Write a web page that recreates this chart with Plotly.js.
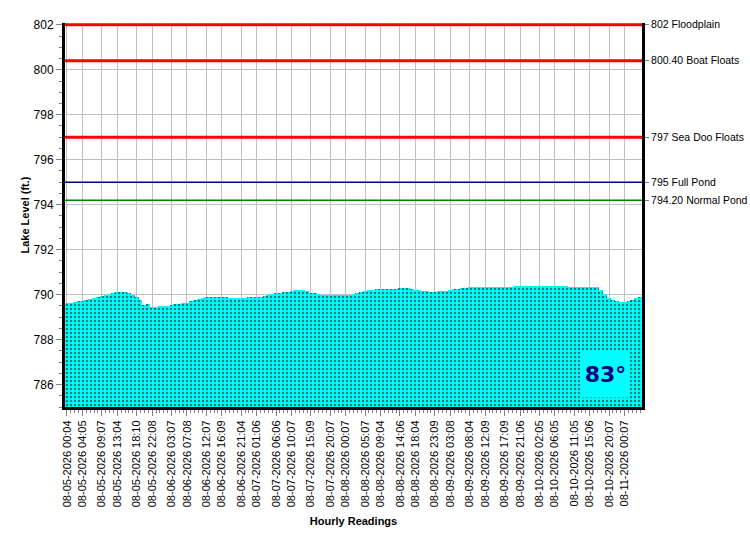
<!DOCTYPE html>
<html>
<head>
<meta charset="utf-8">
<script src="https://cdn.plot.ly/plotly-3.0.1.min.js"></script>
<style>html,body{margin:0;padding:0;background:#fff;}#chart{width:750px;height:550px;}</style>
</head>
<body>
<div id="chart"></div>
<script>
// Hourly lake level readings (ft.), one per hour starting 08-05-2026 00:04
const levels = [
  789.61,789.64,789.66,789.70,789.72,789.76,789.80,789.84,789.88,789.94,
  789.99,790.03,790.06,790.10,790.12,790.10,790.07,789.99,789.90,789.76,
  789.55,789.58,789.47,789.46,789.49,789.49,789.51,789.52,789.57,789.60,
  789.62,789.64,789.70,789.76,789.80,789.85,789.88,789.90,789.91,789.91,
  789.90,789.88,789.87,789.86,789.85,789.85,789.87,789.88,789.88,789.88,
  789.91,789.94,789.97,790.01,790.05,790.08,790.10,790.13,790.17,790.21,
  790.22,790.22,790.15,790.07,790.07,790.03,789.97,789.98,789.99,789.99,
  789.99,789.99,790.00,790.00,790.04,790.09,790.13,790.16,790.20,790.22,
  790.24,790.25,790.25,790.26,790.27,790.27,790.28,790.31,790.28,790.24,
  790.22,790.20,790.18,790.15,790.13,790.13,790.15,790.16,790.18,790.22,
  790.24,790.26,790.28,790.30,790.32,790.34,790.34,790.34,790.33,790.33,
  790.33,790.33,790.33,790.34,790.34,790.35,790.37,790.39,790.39,790.38,
  790.39,790.39,790.38,790.37,790.36,790.37,790.38,790.39,790.39,790.37,
  790.35,790.34,790.34,790.34,790.34,790.33,790.33,790.33,790.21,790.02,
  789.85,789.78,789.72,789.68,789.67,789.72,789.76,789.84,789.88
];

const tickLabels = [
  "08-05-2026 00:04","08-05-2026 04:05","08-05-2026 09:07","08-05-2026 13:04",
  "08-05-2026 18:10","08-05-2026 22:08","08-06-2026 03:07","08-06-2026 07:08",
  "08-06-2026 12:07","08-06-2026 16:09","08-06-2026 21:04","08-07-2026 01:06",
  "08-07-2026 06:06","08-07-2026 10:07","08-07-2026 15:09","08-07-2026 20:07",
  "08-08-2026 00:07","08-08-2026 05:07","08-08-2026 09:04","08-08-2026 14:06",
  "08-08-2026 18:04","08-08-2026 23:09","08-09-2026 03:08","08-09-2026 08:04",
  "08-09-2026 12:09","08-09-2026 17:09","08-09-2026 21:06","08-10-2026 02:05",
  "08-10-2026 06:05","08-10-2026 11:05","08-10-2026 15:06","08-10-2026 20:07",
  "08-11-2026 00:07"
];

const refLevels = [802, 800.4, 797, 795, 794.2];
const refLabels = ["802 Floodplain", "800.40 Boat Floats", "797 Sea Doo Floats", "795 Full Pond", "794.20 Normal Pond"];
const refColors = ["#ff0000", "#ff0000", "#ff0000", "#000080", "#008000"];
const refWidths = [3, 3, 3, 1.5, 1.5];

const temperature = "83°";

// reading index (hours since first reading) from a label
function hourIndex(lbl) {
  const day = parseInt(lbl.slice(3, 5), 10);
  const hr = parseInt(lbl.slice(11, 13), 10);
  return (day - 5) * 24 + hr;
}
const xs = levels.map((v, i) => i);
const tickVals = tickLabels.map(hourIndex);

const font = "Liberation Sans, Arial, sans-serif";
const yRange = [785, 802.08];

const bars = {
  type: "bar",
  x: xs,
  y: levels,
  width: 1,
  marker: {
    color: "#00ffff",
    line: {width: 0},
    pattern: {shape: ".", fgcolor: "#000000", bgcolor: "#00ffff", size: 4, solidity: 0.3, fillmode: "overlay"}
  },
  hoverinfo: "x+y",
  showlegend: false
};

const dummyRight = {
  type: "scatter", x: [0], y: [refLevels[0]], yaxis: "y2",
  mode: "markers", marker: {opacity: 0}, showlegend: false, hoverinfo: "skip"
};

const shapes = refLevels.map((lv, i) => ({
  type: "line", xref: "paper", x0: 0, x1: 1, yref: "y", y0: lv, y1: lv,
  line: {color: refColors[i], width: refWidths[i]}
}));

const layout = {
  width: 750, height: 550,
  margin: {l: 65, r: 108, t: 23, b: 143},
  paper_bgcolor: "#ffffff", plot_bgcolor: "#ffffff",
  bargap: 0,
  font: {family: font, size: 11, color: "#000"},
  xaxis: {
    range: [-0.5, levels.length - 0.5],
    tickmode: "array", tickvals: tickVals, ticktext: tickLabels,
    tickangle: -90, tickfont: {size: 11, family: font},
    ticks: "outside", ticklen: 6, tickcolor: "#808080",
    showgrid: true, gridcolor: "#c0c0c0", gridwidth: 1,
    showline: true, linecolor: "#000", linewidth: 3,
    zeroline: false,
    minor: {ticks: "outside", ticklen: 3, tickcolor: "#808080", dtick: 1, tick0: 0, showgrid: false},
    title: {text: "Hourly Readings", font: {size: 11, family: font, weight: "bold"}, standoff: 12}
  },
  yaxis: {
    range: yRange,
    dtick: 2, tick0: 786,
    tickfont: {size: 12, family: font},
    ticks: "outside", ticklen: 6, tickcolor: "#808080",
    showgrid: true, gridcolor: "#c0c0c0", gridwidth: 1,
    showline: true, linecolor: "#000", linewidth: 3,
    zeroline: false,
    minor: {ticks: "outside", ticklen: 3, tickcolor: "#808080", dtick: 0.5, tick0: 786, showgrid: false},
    title: {text: "Lake Level (ft.)", font: {size: 11, family: font, weight: "bold"}, standoff: 2}
  },
  yaxis2: {
    overlaying: "y", side: "right",
    range: yRange,
    tickmode: "array", tickvals: refLevels, ticktext: refLabels,
    tickfont: {size: 10.5, family: font},
    ticks: "outside", ticklen: 4, tickcolor: "#808080",
    showgrid: false, zeroline: false,
    showline: true, linecolor: "#000", linewidth: 3
  },
  shapes: shapes,
  annotations: [{
    text: "<b>" + temperature + "</b>",
    xref: "paper", yref: "paper", x: 0.979, y: 0.024, xanchor: "right", yanchor: "bottom",
    width: 47, height: 45, align: "center", valign: "middle",
    showarrow: false, bgcolor: "#00ffff",
    font: {size: 22, color: "#000080", family: "DejaVu Sans, sans-serif"},
    borderpad: 0
  }]
};

Plotly.newPlot("chart", [bars, dummyRight], layout, {displayModeBar: false, staticPlot: true});
</script>
</body>
</html>
